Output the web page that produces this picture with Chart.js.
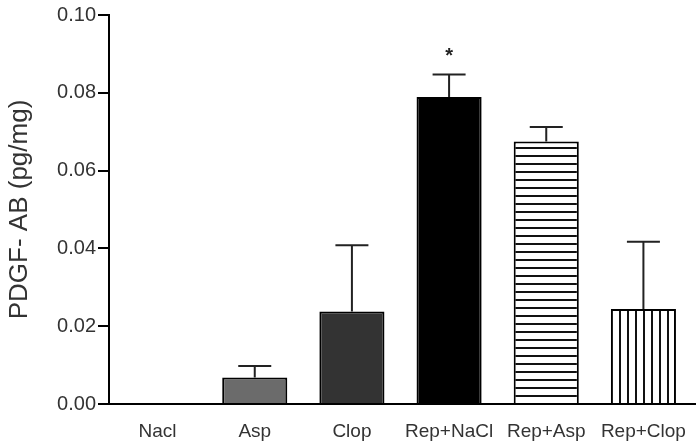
<!DOCTYPE html>
<html>
<head>
<meta charset="utf-8">
<script src="https://cdn.jsdelivr.net/npm/chart.js@4/dist/chart.umd.min.js"></script>
<style>
  html, body { margin: 0; padding: 0; background: #fff; }
  #wrap { width: 700px; height: 446px; }
</style>
</head>
<body>
<div id="wrap"><canvas id="pdgfChart" width="700" height="446"></canvas></div>
<script>
// data
const groups = ['Nacl', 'Asp', 'Clop', 'Rep+NaCl', 'Rep+Asp', 'Rep+Clop'];
const means = [0, 0.0068, 0.0238, 0.0789, 0.0675, 0.0244];
const sems = [0, 0.0030, 0.0170, 0.0058, 0.0037, 0.0173];
const marks = ['', '', '', '*', '', ''];
const yTicks = [0, 0.02, 0.04, 0.06, 0.08, 0.10];

function stripes(vertical) {
    const c = document.createElement('canvas');
    c.width = 8;
    c.height = 8;
    const g = c.getContext('2d');
    g.fillStyle = '#fff';
    g.fillRect(0, 0, 8, 8);
    g.fillStyle = '#111';
    if (vertical) g.fillRect(3, 0, 2, 8);
    else g.fillRect(0, 3, 8, 2);
    return g.createPattern(c, 'repeat');
}

const ctx = document.getElementById('pdgfChart').getContext('2d');
const fills = ['#ffffff', '#6b6b6b', '#333333', '#000000', stripes(false), stripes(true)];

// upper error bars + significance marks
const errorBars = {
    id: 'errorBars',
    afterDatasetsDraw(chart) {
        const y = chart.scales.y;
        const area = chart.chartArea;
        const meta = chart.getDatasetMeta(0);
        const g = chart.ctx;
        g.save();
        // x axis line runs a little past the last category
        g.strokeStyle = '#000';
        g.lineWidth = 2;
        g.beginPath();
        g.moveTo(area.right - 2, y.getPixelForValue(0));
        g.lineTo(area.right + 4, y.getPixelForValue(0));
        g.stroke();

        g.strokeStyle = '#222';
        meta.data.forEach((bar, i) => {
            if (!sems[i]) return;
            const yTop = y.getPixelForValue(means[i] + sems[i]);
            const yBar = y.getPixelForValue(means[i]);
            g.beginPath();
            g.moveTo(bar.x, yBar);
            g.lineTo(bar.x, yTop);
            g.moveTo(bar.x - 16.5, yTop);
            g.lineTo(bar.x + 16.5, yTop);
            g.stroke();
            if (marks[i]) {
                g.fillStyle = '#222';
                g.font = 'bold 20px "Liberation Sans", Arial';
                g.textAlign = 'center';
                g.textBaseline = 'middle';
                g.fillText(marks[i], bar.x, yTop - 18);
            }
        });
        g.restore();
    }
};

new Chart(ctx, {
    type: 'bar',
    data: {
        labels: groups,
        datasets: [{
            data: means,
            backgroundColor: fills,
            borderColor: '#000',
            borderWidth: means.map(v => (v > 0 ? 2 : 0)),
            barPercentage: 0.67,
            categoryPercentage: 1.0,
        }],
    },
    options: {
        responsive: false,
        animation: false,
        layout: { padding: { left: 0, right: 8, top: 15, bottom: 0 } },
        plugins: { legend: { display: false }, tooltip: { enabled: false } },
        scales: {
            x: {
                grid: { display: false },
                border: { display: true, color: '#000', width: 2 },
                ticks: {
                    color: '#333',
                    font: { family: '"Liberation Sans", Arial', size: 19 },
                    padding: 8,
                    maxRotation: 0,
                    autoSkip: false,
                },
                afterFit(scale) { scale.height = 42; },
            },
            y: {
                min: 0,
                max: 0.1,
                afterBuildTicks(scale) { scale.ticks = yTicks.map(v => ({ value: v })); },
                grid: { drawOnChartArea: false, drawTicks: true, tickLength: 11, color: '#000', lineWidth: 2 },
                border: { display: true, color: '#000', width: 2 },
                ticks: {
                    color: '#333',
                    font: { family: '"Liberation Sans", Arial', size: 20 },
                    padding: 2,
                    callback: v => v.toFixed(2),
                },
                title: {
                    display: true,
                    text: 'PDGF- AB (pg/mg)',
                    color: '#333',
                    font: { family: '"Liberation Sans", Arial', size: 26 },
                    padding: { top: 4, bottom: 0 },
                },
                afterFit(scale) { scale.width = 109; },
            },
        },
    },
    plugins: [errorBars],
});
</script>
</body>
</html>
